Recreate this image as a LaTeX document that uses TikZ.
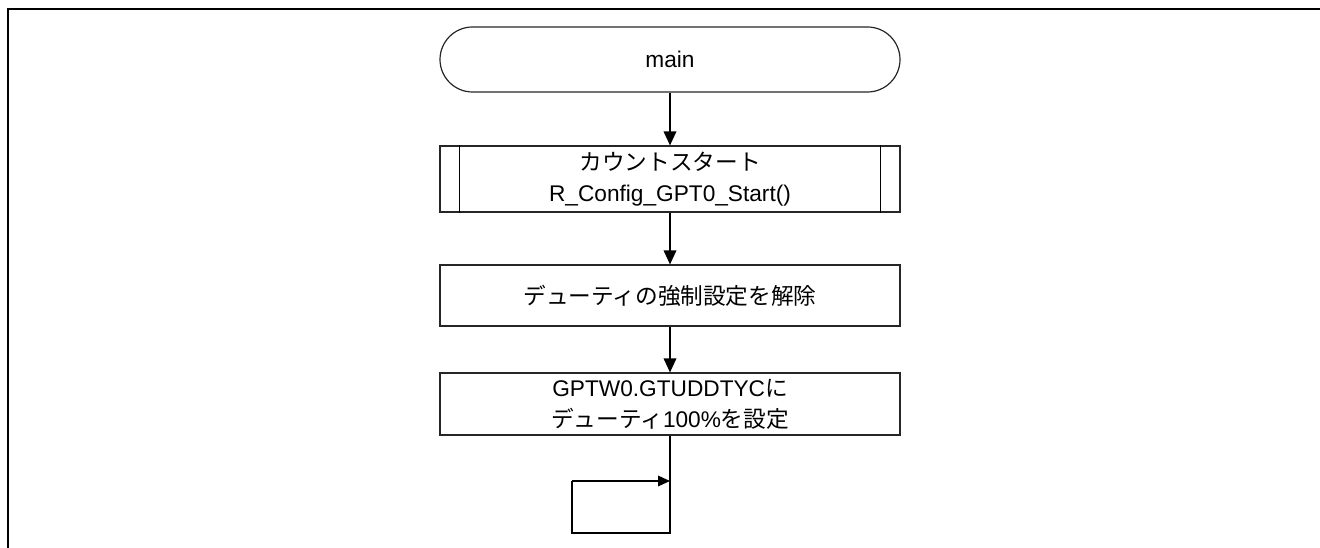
\documentclass[tikz,border=0pt]{standalone}
\usepackage{fontspec}
\setmainfont{Liberation Sans}
\newfontfamily\jp{Noto Sans CJK JP}
\usetikzlibrary{arrows.meta}
\begin{document}
\begin{tikzpicture}[x=0.75pt,y=-0.75pt,
  box/.style={draw=black!85,line width=0.9pt,minimum width=345pt,inner sep=0pt,align=center,
    font=\fontsize{17}{23.25}\selectfont},
  term/.style={box,rounded corners=24.4pt,minimum height=48.75pt},
  proc/.style={box,minimum height=46pt},
  sub/.style={box,minimum height=49.5pt},
  flow/.style={line width=1pt,-{Triangle[length=10.5pt,width=9.5pt]}},
  plain/.style={line width=0.9pt},
  frame/.style={line width=1.5pt}]
\useasboundingbox (0,0) rectangle (1320,548);
\draw[frame] (8,548) -- (8,9) -- (1320,9);
\node[term] (t) at (670,59.5) {main};
\node[sub] (s) at (670,179) {{\jp カウントスタート}\\R\_Config\_GPT0\_Start()};
\draw[plain] ([xshift=15pt]s.north west) -- ([xshift=15pt]s.south west);
\draw[plain] ([xshift=-15pt]s.north east) -- ([xshift=-15pt]s.south east);
\node[proc,minimum height=45.75pt] (b2) at (670,295.5) {\jp デューティの強制設定を解除};
\node[proc,minimum height=46.5pt] (b3) at (670,404) {GPTW0.GTUDDTYC{\jp に}\\{\jp デューティ}100\%{\jp を設定}};
\draw[flow] (t) -- (s);
\draw[flow] (s) -- (b2);
\draw[flow] (b2) -- (b3);
\coordinate (l1) at (670,533);
\coordinate (l2) at (572,481);
\coordinate (l3) at (670,481);
\draw[plain] (b3.south) -- (l1) -| (l2);
\draw[flow,line width=0.9pt,-{Triangle[length=9pt,width=8pt]}] (l2) -- (l3);
\end{tikzpicture}
\end{document}
